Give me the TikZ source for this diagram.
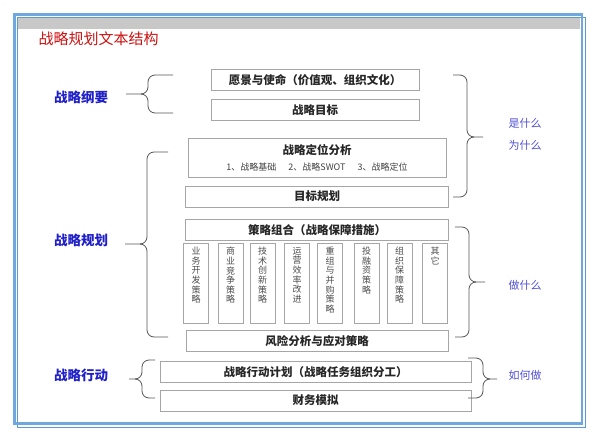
\documentclass[tikz,border=0pt]{standalone}
\usepackage{fontspec}
\setmainfont{Noto Sans CJK SC}
\usetikzlibrary{positioning}
\definecolor{boxgray}{HTML}{A6A6A6}
\definecolor{bracegray}{HTML}{555555}
\definecolor{frameblue}{HTML}{6FA8DC}
\definecolor{thinblue}{HTML}{5B9BD5}
\definecolor{bandgray}{HTML}{C8C8C8}
\definecolor{titlered}{HTML}{CC1111}
\definecolor{sideblue}{HTML}{2020C8}
\definecolor{askblue}{HTML}{5050D8}

\begin{document}
\begin{tikzpicture}[
    x=1pt, y=-1pt,
    node distance=8pt,
    block/.style={rectangle, draw=boxgray, line width=0.8pt, minimum height=21pt, inner sep=0pt, font=\bfseries\fontsize{11.5}{13}\selectfont, text=black!85},
    vbox/.style={rectangle, draw=boxgray, line width=0.8pt, minimum width=25pt, minimum height=80pt, inner sep=0pt, anchor=north},
    vtext/.style={anchor=north, yshift=-4pt, inner sep=0pt, align=center, font=\fontsize{9}{9.6}\selectfont, text=black!70},
    side/.style={font=\bfseries\fontsize{13.5}{15}\selectfont, text=sideblue},
    ask/.style={font=\fontsize{11}{13}\selectfont, text=askblue},
    curly/.style={draw=bracegray, line width=0.8pt, rounded corners=7pt}
]
\useasboundingbox (0,0) rectangle (600,442);
\fill[bandgray] (18,18) rectangle (580,29);
\draw[thinblue, line width=0.9pt] (17.5,17.5) rectangle (585.5,427);
\draw[frameblue, line width=2.5pt] (14.5,14.5) rectangle (581.8,423.5);

\node[anchor=west, font=\fontsize{15}{17}\selectfont, text=titlered] (title) at (35,39) {战略规划文本结构};

\node[block, minimum width=208pt] (vision) at (315,80) {愿景与使命（价值观、组织文化）};
\node[block, minimum width=208pt, below=of vision] (aim) {战略目标};
\node[block, minimum width=258pt, minimum height=39pt, align=center, below=17pt of aim, xshift=2pt] (position) {战略定位分析\\[3pt]{\mdseries\fontsize{9}{11}\selectfont\color{black!75}1、战略基础\hspace{12pt}2、战略SWOT\hspace{12pt}3、战略定位}};
\node[block, minimum width=263pt, below=8pt of position] (target) {目标规划};
\node[block, minimum width=263pt, below=12pt of target] (combo) {策略组合（战略保障措施）};

\node[vbox, label={[vtext]north:业\\务\\开\\发\\策\\略}] (v1) at (196,243) {};
\node[vbox, label={[vtext]north:商\\业\\竞\\争\\策\\略}] (v2) at (230.5,243) {};
\node[vbox, label={[vtext]north:技\\术\\创\\新\\策\\略}] (v3) at (262.5,243) {};
\node[vbox, label={[vtext]north:运\\营\\效\\率\\改\\进}] (v4) at (297,243) {};
\node[vbox, label={[vtext]north:重\\组\\与\\并\\购\\策\\略}] (v5) at (330,243) {};
\node[vbox, label={[vtext]north:投\\融\\资\\策\\略}] (v6) at (366.5,243) {};
\node[vbox, label={[vtext]north:组\\织\\保\\障\\策\\略}] (v7) at (399.5,243) {};
\node[vbox, label={[vtext]north:其\\它}] (v8) at (435,243) {};

\node[block, minimum width=262pt, below=89pt of combo] (risk) {风险分析与应对策略};
\node[block, minimum width=311pt, below=9pt of risk, xshift=-1.5pt] (plan) {战略行动计划（战略任务组织分工）};
\node[block, minimum width=311pt, below=7pt of plan] (finance) {财务模拟};

\node[side] (outline) at (81,97) {战略纲要};
\node[side] (planning) at (81,240) {战略规划};
\node[side] (action) at (81,375) {战略行动};

\node[ask] (what) at (525,123) {是什么};
\node[ask] (why) at (525,145) {为什么};
\node[ask] (todo) at (525,285) {做什么};
\node[ask] (how) at (525,375) {如何做};

\draw[curly] (173,75) -- (148,75) -- (148,94) -- (126,94);
\draw[curly] (141,94) -- (148,94) -- (148,113) -- (173,113);
\draw[curly] (168,152) -- (147,152) -- (147,244) -- (125,244);
\draw[curly] (140,244) -- (147,244) -- (147,337) -- (168,337);
\draw[curly] (155,360) -- (142,360) -- (142,379) -- (129,379);
\draw[curly] (135,379) -- (142,379) -- (142,398) -- (155,398);

\draw[curly] (453,75) -- (467,75) -- (467,137) -- (483,137);
\draw[curly] (474,137) -- (467,137) -- (467,197) -- (453,197);
\draw[curly] (455,227) -- (469,227) -- (469,282) -- (485,282);
\draw[curly] (476,282) -- (469,282) -- (469,337) -- (455,337);
\draw[curly] (468,358) -- (483,358) -- (483,379) -- (497,379);
\draw[curly] (490,379) -- (483,379) -- (483,398) -- (468,398);
\end{tikzpicture}
\end{document}
